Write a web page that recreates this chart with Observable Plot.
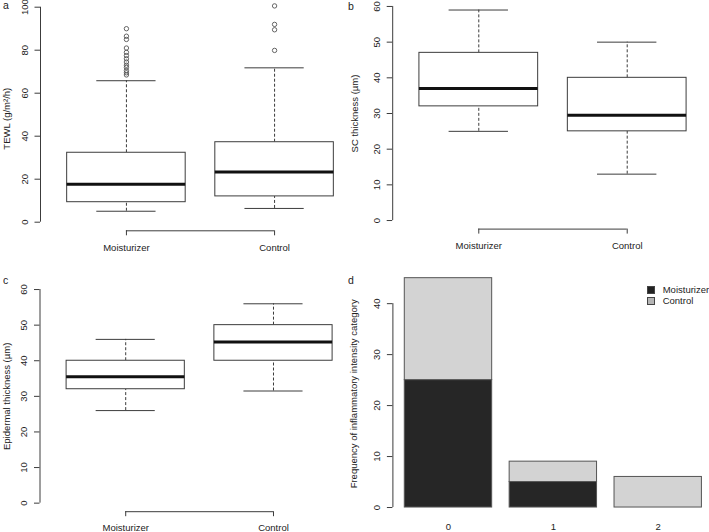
<!DOCTYPE html>
<html><head><meta charset="utf-8">
<script src="https://cdn.jsdelivr.net/npm/d3@7"></script>
<script src="https://cdn.jsdelivr.net/npm/@observablehq/plot@0.6"></script>
<style>
html,body{margin:0;padding:0;background:#fff;}
#chart{position:relative;width:709px;height:532px;overflow:hidden;font-family:"Liberation Sans",Arial,Helvetica,sans-serif;color:#222;}
#chart svg{position:absolute;left:0;top:0;}
.lbl{position:absolute;line-height:0;white-space:nowrap;}
.sq{position:absolute;width:6px;height:6px;border:1px solid #444;}
</style></head><body><div id="chart"></div>
<script>
// ---------- data ----------
const groups = ["Moisturizer", "Control"];

// a: TEWL (g/m²/h)
const tewlLow = [5.1, 6.4];
const tewlQ1 = [9.3, 12.0];
const tewlMedian = [17.7, 23.3];
const tewlQ3 = [32.3, 37.2];
const tewlHigh = [65.8, 71.8];
const tewlOutMoisturizer = [90, 86.5, 85, 81, 79, 77.5, 76, 74.5, 73, 72, 70.5, 69.5, 68.5];
const tewlOutControl = [100.6, 92, 89.5, 79.9];
const tewlTicks = [0, 20, 40, 60, 80, 100];

// b: SC thickness (µm)
const scLow = [25, 13];
const scQ1 = [32, 25];
const scMedian = [37, 29.5];
const scQ3 = [47, 40];
const scHigh = [59, 50];
const scTicks = [0, 10, 20, 30, 40, 50, 60];

// c: Epidermal thickness (µm)
const epLow = [26, 31.5];
const epQ1 = [32, 40];
const epMedian = [35.5, 45.3];
const epQ3 = [40, 50];
const epHigh = [46, 56];
const epTicks = [0, 10, 20, 30, 40, 50, 60];

// d: frequency of inflammatory intensity category
const categories = ["0", "1", "2"];
const moisturizerCounts = [25, 5, 0];
const controlCounts = [20, 4, 6];
const freqTicks = [0, 10, 20, 30, 40];

// ---------- layout ----------
const W = 709, H = 532;
const LINE = "#3c3c3c";
const FONT = {fontFamily: "'Liberation Sans', Arial, Helvetica, sans-serif", fontSize: "9.5px", background: "transparent", overflow: "visible", color: "#222"};
const chart = document.getElementById("chart");
const TXT = {textAnchor: "middle", lineAnchor: "middle"};

function boxPanel({low, q1, med, q3, high, outliers, ticks, yDomain, xRange, yRange, ylabel, ylabelDx, ylabelDy}) {
  const data = groups.map((g, i) => ({g, x: i + 1, low: low[i], q1: q1[i], med: med[i], q3: q3[i], high: high[i]}));
  const out = outliers.flatMap((arr, i) => arr.map(v => ({x: i + 1, v})));
  const xDomain = [0.42, 2.58];
  return Plot.plot({
    width: W, height: H,
    marginLeft: xRange[0], marginRight: W - xRange[1],
    marginTop: yRange[1], marginBottom: H - yRange[0],
    x: {type: "linear", domain: xDomain, axis: null},
    y: {type: "linear", domain: yDomain, axis: null},
    style: FONT,
    marks: [
      Plot.ruleX(data, {x: "x", y1: "q3", y2: "high", stroke: LINE, strokeDasharray: "3,2"}),
      Plot.ruleX(data, {x: "x", y1: "low", y2: "q1", stroke: LINE, strokeDasharray: "3,2"}),
      Plot.ruleY(data, {y: "high", x1: d => d.x - 0.2, x2: d => d.x + 0.2, stroke: LINE}),
      Plot.ruleY(data, {y: "low", x1: d => d.x - 0.2, x2: d => d.x + 0.2, stroke: LINE}),
      Plot.rect(data, {x1: d => d.x - 0.4, x2: d => d.x + 0.4, y1: "q1", y2: "q3", fill: "white", stroke: LINE}),
      Plot.ruleY(data, {y: "med", x1: d => d.x - 0.4, x2: d => d.x + 0.4, stroke: "#111", strokeWidth: 3}),
      Plot.dot(out, {x: "x", y: "v", r: 2.2, stroke: "#555", fill: "none", strokeWidth: 0.9}),
      // y axis
      Plot.ruleX([xDomain[0]], {y1: ticks[0], y2: ticks[ticks.length - 1], stroke: LINE}),
      Plot.axisY({ticks, tickSize: 5.5, tickFormat: () => "", label: null, stroke: LINE}),
      Plot.text(ticks, {y: d => d, frameAnchor: "left", dx: -16, rotate: -90, text: d => String(d), ...TXT}),
      Plot.text([ylabel], {frameAnchor: "left", dx: ylabelDx, dy: ylabelDy, rotate: -90, text: d => d, ...TXT}),
      // x axis (bracket)
      Plot.ruleY([yDomain[0]], {x1: 1, x2: 2, stroke: LINE}),
      Plot.axisX({ticks: [1, 2], tickSize: 5, tickFormat: () => "", label: null, stroke: LINE}),
      Plot.text(data, {x: "x", frameAnchor: "bottom", dy: 16.7, text: "g", ...TXT})
    ]
  });
}

const pa = boxPanel({low: tewlLow, q1: tewlQ1, med: tewlMedian, q3: tewlQ3, high: tewlHigh,
  outliers: [tewlOutMoisturizer, tewlOutControl], ticks: tewlTicks, yDomain: [-4, 104],
  xRange: [40, 360], yRange: [230.3, -1.9], ylabel: "TEWL (g/m²/h)", ylabelDx: -34, ylabelDy: 4});
const pb = boxPanel({low: scLow, q1: scQ1, med: scMedian, q3: scQ3, high: scHigh,
  outliers: [[], []], ticks: scTicks, yDomain: [-2.4, 62.4],
  xRange: [392.2, 712.8], yRange: [228.6, -2.6], ylabel: "SC thickness (µm)", ylabelDx: -38, ylabelDy: 0});
const pc = boxPanel({low: epLow, q1: epQ1, med: epMedian, q3: epQ3, high: epHigh,
  outliers: [[], []], ticks: epTicks, yDomain: [-2.4, 62.4],
  xRange: [39.5, 358.7], yRange: [511.2, 280.5], ylabel: "Epidermal thickness (µm)", ylabelDx: -33.5, ylabelDy: 0});

// panel d: stacked bars (R barplot layout: width 1, space 0.2)
const barRows = [];
categories.forEach((c, i) => {
  const x1 = 0.2 + 1.2 * i;
  const m = moisturizerCounts[i], k = controlCounts[i];
  barRows.push({cat: c, series: "Moisturizer", x1, x2: x1 + 1, y1: 0, y2: m});
  barRows.push({cat: c, series: "Control", x1, x2: x1 + 1, y1: m, y2: m + k});
});
const dxDomain = [0.064, 3.736];
const pd = Plot.plot({
  width: W, height: H,
  marginLeft: 392.4, marginRight: W - 713.3, marginTop: 268.5, marginBottom: H - 516.2,
  x: {type: "linear", domain: dxDomain, axis: null},
  y: {type: "linear", domain: [-1.8, 46.8], axis: null},
  color: {domain: ["Moisturizer", "Control"], range: ["#262626", "#d3d3d3"]},
  style: FONT,
  marks: [
    Plot.rect(barRows, {x1: "x1", x2: "x2", y1: "y1", y2: "y2", fill: "series", stroke: "#555", strokeWidth: 1}),
    Plot.ruleX([dxDomain[0]], {y1: freqTicks[0], y2: freqTicks[freqTicks.length - 1], stroke: LINE}),
    Plot.axisY({ticks: freqTicks, tickSize: 5.5, tickFormat: () => "", label: null, stroke: LINE}),
    Plot.text(freqTicks, {y: d => d, frameAnchor: "left", dx: -16, rotate: -90, text: d => String(d), ...TXT}),
    Plot.text(["Frequency of inflammatory intensity category"], {frameAnchor: "left", dx: -39, dy: 1, rotate: -90, text: d => d, ...TXT}),
    Plot.text(categories.map((c, i) => ({c, x: 0.7 + 1.2 * i})), {x: "x", frameAnchor: "bottom", dy: 10.5, text: "c", ...TXT})
  ]
});

[pa, pb, pc, pd].forEach(p => chart.appendChild(p));

// panel letters and legend (HTML text, positioned by baseline)
function label(text, x, baseline, size) {
  const el = document.createElement("div");
  el.className = "lbl";
  el.textContent = text;
  el.style.fontSize = size + "px";
  el.style.left = x + "px";
  el.style.top = (baseline - 0.3465 * size) + "px";
  chart.appendChild(el);
}
label("a", 3, 8.8, 10.5);
label("b", 348, 9.3, 10.5);
label("c", 3, 284, 10.5);
label("d", 348, 283.5, 10.5);

const legendItems = [["Moisturizer", "#222", 293.3], ["Control", "#b5b5b5", 304]];
legendItems.forEach(([t, col, base]) => {
  const s = document.createElement("div");
  s.className = "sq";
  s.style.left = "646.5px";
  s.style.top = (base - 7.3) + "px";
  s.style.background = col;
  chart.appendChild(s);
  label(t, 662.7, base, 9.5);
});
</script></body></html>
